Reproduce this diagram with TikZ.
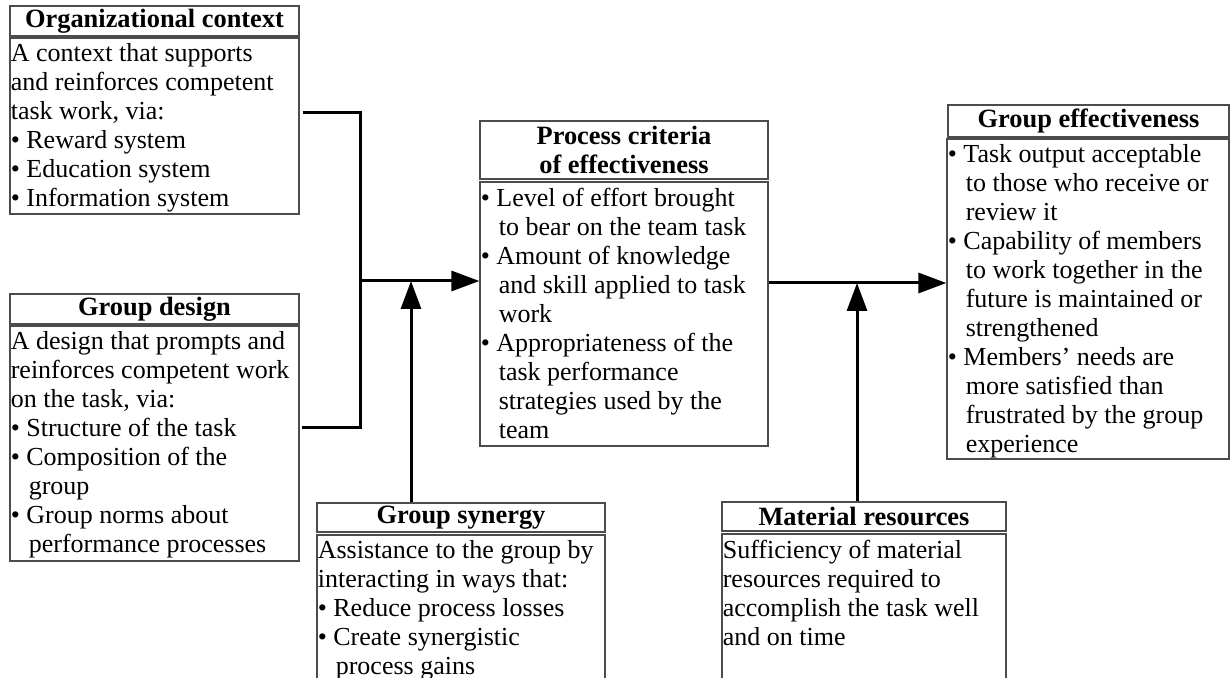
\documentclass[tikz,border=0pt]{standalone}
\usepackage{fontspec}
\setmainfont{Liberation Serif}
\usetikzlibrary{fit,arrows.meta}
\newcommand\bu{\textbullet\ }
\newcommand\ci{\hspace*{9pt}}
\begin{document}
\begin{tikzpicture}[x=0.5pt,y=-0.5pt,
  frame/.style={draw=black!70, line width=0.6pt, inner sep=0pt},
  ttltext/.style={font=\fontsize{13.2}{14.3}\selectfont\bfseries, align=center, inner sep=0pt},
  body/.style={anchor=north west, inner sep=0pt, align=left, yshift=-3pt, xshift=0.5pt, font=\fontsize{13}{14.5}\selectfont},
  conn/.style={line width=1.5pt},
  arr/.style={line width=1.5pt, -{Triangle[length=14pt,width=10pt]}}]
\useasboundingbox (0,0) rectangle (1230,678);
\clip (0,0) rectangle (1230,678);
% Organizational context
\node[frame, fit={(10,6)(299,36)}, label={[ttltext]center:Organizational context}] (OrgT) {};
\node[frame, fit={(10,38)(299,214)}] (OrgB) {};
\node[body] (OrgX) at (OrgB.north west) {A context that supports\\
and reinforces competent\\
task work, via:\\
\bu Reward system\\
\bu Education system\\
\bu Information system};
% Group design
\node[frame, fit={(10,294)(299,324)}, label={[ttltext]center:Group design}] (GdT) {};
\node[frame, fit={(10,326)(299,561)}] (GdB) {};
\node[body] (GdX) at (GdB.north west) {A design that prompts and\\
reinforces competent work\\
on the task, via:\\
\bu Structure of the task\\
\bu Composition of the\\
\ci group\\
\bu Group norms about\\
\ci performance processes};
% Process criteria
\node[frame, fit={(480,121)(768,179)}, label={[ttltext]center:Process criteria\\of effectiveness}] (PcT) {};
\node[frame, fit={(480,182)(768,446)}] (PcB) {};
\node[body] (PcX) at (PcB.north west) {\bu Level of effort brought\\
\ci to bear on the team task\\
\bu Amount of knowledge\\
\ci and skill applied to task\\
\ci work\\
\bu Appropriateness of the\\
\ci task performance\\
\ci strategies used by the\\
\ci team};
% Group effectiveness
\node[frame, fit={(948,105)(1229,137)}, label={[ttltext]center:Group effectiveness}] (GeT) {};
\node[frame, fit={(947,139)(1229,459)}] (GeB) {};
\node[body] (GeX) at (GeB.north west) {\bu Task output acceptable\\
\ci to those who receive or\\
\ci review it\\
\bu Capability of members\\
\ci to work together in the\\
\ci future is maintained or\\
\ci strengthened\\
\bu Members’ needs are\\
\ci more satisfied than\\
\ci frustrated by the group\\
\ci experience};
% Group synergy
\node[frame, fit={(317,503)(605,532)}, label={[ttltext]center:Group synergy}] (GsT) {};
\node[frame, fit={(317,535)(605,700)}] (GsB) {};
\node[body] (GsX) at (GsB.north west) {Assistance to the group by\\
interacting in ways that:\\
\bu Reduce process losses\\
\bu Create synergistic\\
\ci process gains};
% Material resources
\node[frame, fit={(722,502)(1006,531)}, label={[ttltext]center:Material resources}] (MrT) {};
\node[frame, fit={(722,534)(1006,700)}] (MrB) {};
\node[body] (MrX) at (MrB.north west) {Sufficiency of material\\
resources required to\\
accomplish the task well\\
and on time};
% connectors
\coordinate (j1) at (360,113);
\coordinate (j2) at (360,427);
\coordinate (jm) at (360,281);
\coordinate (sx) at (411,0);
\coordinate (mx) at (857,0);
\coordinate (jr) at (768,283);
\draw[conn] ([xshift=1.5pt]OrgB.east |- j1) -- (j1) -- (j2) -- ([xshift=1pt]GdB.east |- j2);
\draw[arr] (jm) -- (PcB.west |- jm);
\draw[arr] (GsT.north -| sx) -- (sx |- jm);
\draw[arr] (PcB.east |- jr) -- (GeB.west |- jr);
\draw[arr] (MrT.north -| mx) -- (mx |- jr);
\end{tikzpicture}
\end{document}
